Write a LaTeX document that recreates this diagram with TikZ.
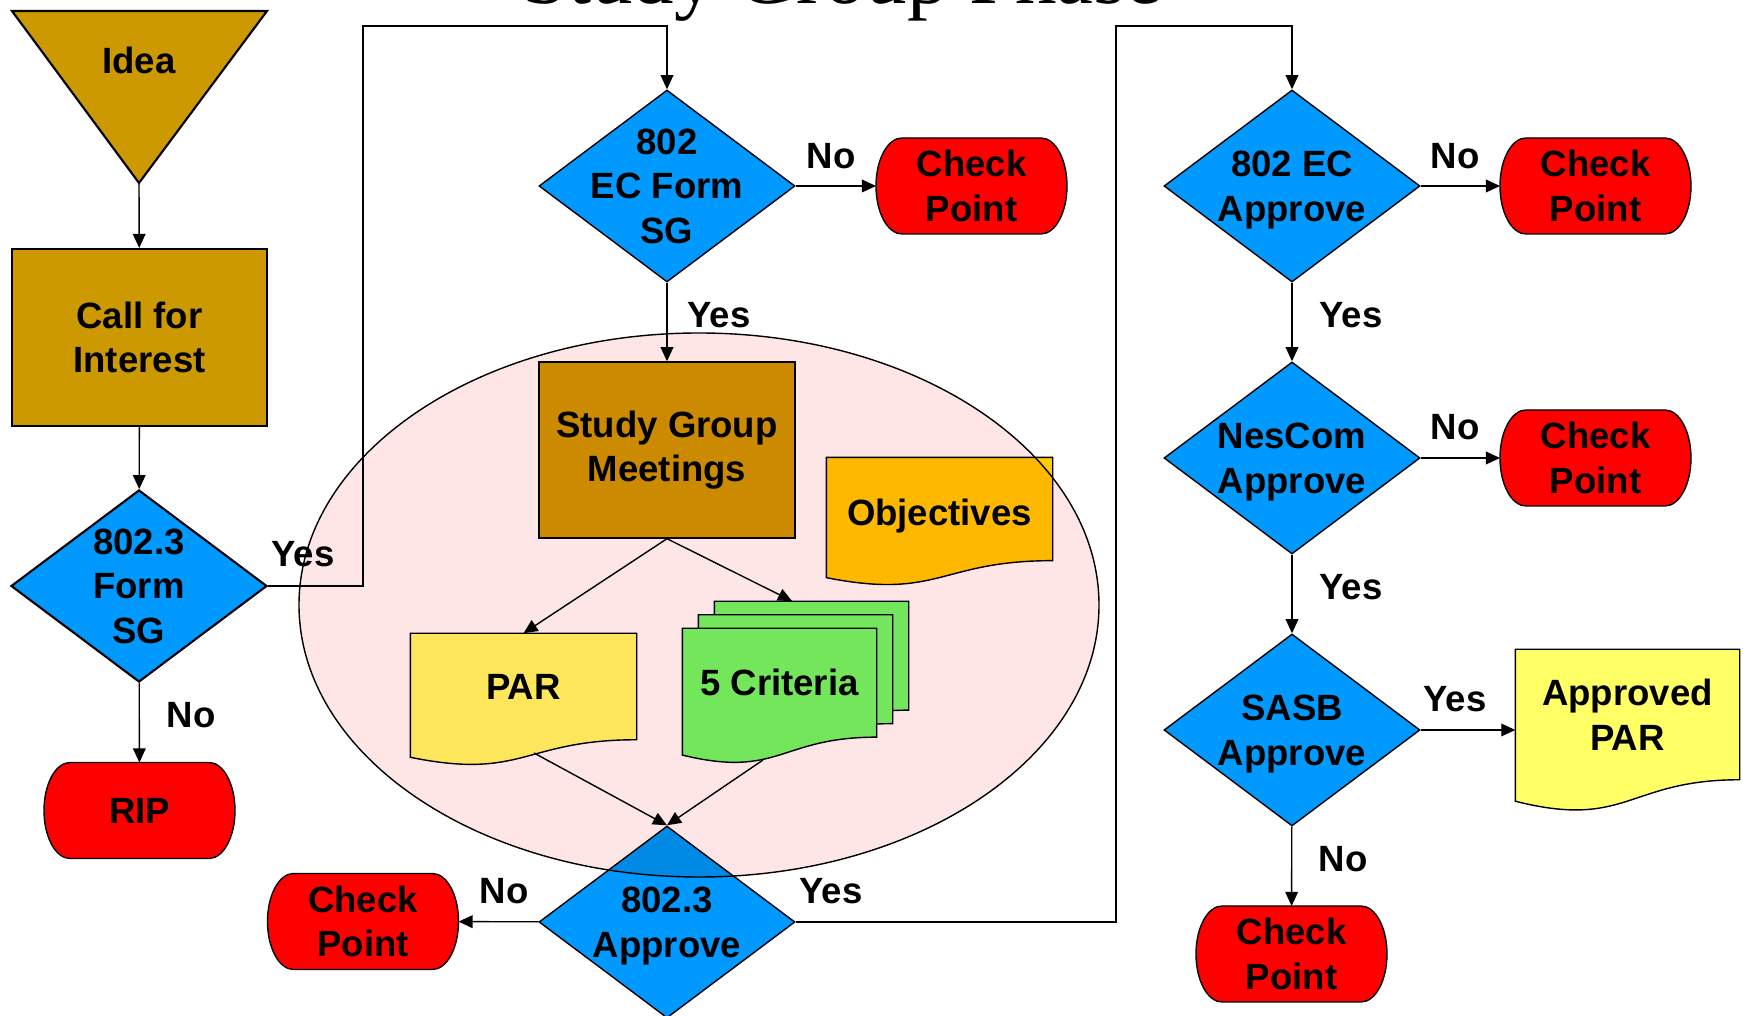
\documentclass[tikz,border=0pt]{standalone}
\usepackage{fontspec}
\setsansfont{Liberation Sans}
\newfontfamily\titlefont{Liberation Serif}
\usepackage{tikz}
\usetikzlibrary{arrows.meta}
\usetikzlibrary{shapes.geometric,calc}
\definecolor{ideagold}{HTML}{CC9900}
\definecolor{flowblue}{HTML}{0099FF}
\definecolor{stopred}{HTML}{FF0000}
\definecolor{paryellow}{HTML}{FFFF66}
\definecolor{objorange}{HTML}{FFCC00}
\definecolor{critgreen}{HTML}{75FF66}
\definecolor{sgpink}{RGB}{254,230,230}
\pgfdeclarelayer{docs}
\pgfsetlayers{docs,main}
\tikzset{
  every node/.style={font=\sffamily\bfseries\fontsize{10.4}{12.7}\selectfont, align=center},
  box/.style={rectangle, draw, fill=ideagold, minimum width=2.55cm, minimum height=1.77cm},
  decision/.style={diamond, draw, fill=flowblue, minimum width=2.56cm, minimum height=1.92cm,
    inner xsep=-0.5cm, inner ysep=-0.3cm, text depth=0pt},
  stopnode/.style={rectangle, minimum width=1.39cm, minimum height=0.96cm, inner sep=0pt,
    outer xsep=0.26cm, outer ysep=0pt},
  docnode/.style 2 args={rectangle, inner sep=0pt, minimum width=#1, minimum height=#2},
  flow/.style={-{Triangle[length=4pt,width=3.6pt]}},
}
% page with a wavy lower edge, drawn behind the node
\newcommand{\docshape}[3][]{%
  \begin{pgfonlayer}{docs}
  \draw[fill=#3,#1] let \p1=(#2.north), \p2=(#2.south), \n1={\y1-\y2} in
    (#2.north west) -- (#2.north east) -- (#2.south east)
    .. controls (#2.south) and ($(#2.south)+(0,-0.3815*\n1)$) .. ($(#2.south west)+(0,-0.1646*\n1)$) -- cycle;
  \end{pgfonlayer}}
% terminal with half-ellipse ends
\newcommand{\stopshape}[1]{%
  \begin{pgfonlayer}{docs}
  \draw[fill=stopred] ($(#1.north west)+(0.26,0)$) -- ($(#1.north east)+(-0.26,0)$)
    arc[start angle=90, end angle=-90, x radius=0.26, y radius=0.48]
    -- ($(#1.south west)+(0.26,0)$)
    arc[start angle=270, end angle=90, x radius=0.26, y radius=0.48] -- cycle;
  \end{pgfonlayer}}

\begin{document}
\begin{tikzpicture}[line width=0.6pt]
  \useasboundingbox (0,0) rectangle (17.43,10.16);
  \node[font=\titlefont\fontsize{23.6}{28}\selectfont, anchor=base] (title) at (8.425,10.125) {Study Group Phase};

  % left column
  \draw[fill=ideagold] (0.12,10.05) -- (2.67,10.05) -- (1.39,8.33) -- cycle;
  \coordinate (idea tip) at (1.39,8.33);
  \node (idea) at (1.39,9.56) {Idea};
  \node[box] (cfi) at (1.395,6.785) {Call for\\Interest};
  \node[decision] (formsg) at (1.39,4.30) {802.3\\Form\\SG};
  \node[stopnode] (rip) at (1.395,2.055) {RIP};
  \stopshape{rip}
  \draw[flow] (idea tip) -- (cfi);
  \draw[flow] (cfi) -- (formsg);
  \draw[flow] (formsg) -- (rip);
  \node (noA) at (1.91,3.01) {No};
  \node (yesA) at (3.03,4.62) {Yes};

  % study group
  \node[decision] (ecform) at (6.67,8.30) {802\\EC Form\\SG};
  \node[stopnode] (cp1) at (9.715,8.30) {Check\\Point};
  \stopshape{cp1}
  \node[box, minimum width=2.56cm, minimum height=1.76cm] (sgm) at (6.67,5.66) {Study Group\\Meetings};
  \node[docnode={2.25cm}{1.019cm}, text height=0.4cm] (obj) at (9.395,5.07) {Objectives};
  \node[docnode={2.25cm}{1.051cm}] (par) at (5.235,3.295) {PAR};
  \node[docnode={1.93cm}{1.075cm}] (crit) at (7.795,3.333) {5 Criteria};
  \docshape{obj}{objorange}
  \docshape{par}{paryellow}
  \foreach \s in {2,1}
    \docshape[transform canvas={shift={(0.16*\s,0.135*\s)}}]{crit}{critgreen};
  \docshape{crit}{critgreen}
  \coordinate (crit in) at (7.92,4.15);
  \coordinate (par out) at (5.34,2.63);
  \coordinate (crit out) at (7.63,2.56);
  \node[decision] (appr) at (6.67,0.94) {802.3\\Approve};
  \node[stopnode] (cp0) at (3.63,0.945) {Check\\Point};
  \stopshape{cp0}
  \coordinate (turnA) at (3.63,9.90);
  \draw[flow] (formsg.east) -| (turnA) -| (ecform.north);
  \draw[flow] (ecform) -- (cp1);
  \draw[flow] (ecform) -- (sgm);
  \draw[flow] (sgm.south) -- (par.north);
  \draw[flow] (sgm.south) -- (crit in);
  \draw[flow] (par out) -- (appr.north);
  \draw[flow] (crit out) -- (appr.north);
  \draw[flow] (appr) -- (cp0);
  \node (noB) at (8.31,8.60) {No};
  \node (yesB) at (7.19,7.01) {Yes};
  \node (noC) at (5.04,1.25) {No};
  \node (yesC) at (8.31,1.25) {Yes};

  % right column
  \node[decision] (ecappr) at (12.92,8.30) {802 EC\\Approve};
  \node[stopnode] (cp2) at (15.955,8.30) {Check\\Point};
  \stopshape{cp2}
  \node[decision] (nescom) at (12.92,5.58) {NesCom\\Approve};
  \node[stopnode] (cp3) at (15.955,5.58) {Check\\Point};
  \stopshape{cp3}
  \node[decision] (sasb) at (12.92,2.86) {SASB\\Approve};
  \node[docnode={2.23cm}{1.291cm}] (apar) at (16.275,3.015) {Approved\\PAR};
  \docshape{apar}{paryellow}
  \node[stopnode] (cp4) at (12.915,0.62) {Check\\Point};
  \stopshape{cp4}
  \coordinate (turnB) at (11.16,9.90);
  \draw[flow] (appr.east) -| (turnB) -| (ecappr.north);
  \draw[flow] (ecappr) -- (cp2);
  \draw[flow] (ecappr) -- (nescom);
  \draw[flow] (nescom) -- (cp3);
  \draw[flow] (nescom) -- (sasb);
  \draw[flow] (sasb.east) -- (sasb.east -| apar.west);
  \draw[flow] (sasb) -- (cp4);
  \node (noD) at (14.55,8.60) {No};
  \node (yesD) at (13.51,7.01) {Yes};
  \node (noE) at (14.55,5.89) {No};
  \node (yesE) at (13.51,4.29) {Yes};
  \node (yesF) at (14.55,3.17) {Yes};
  \node (noF) at (13.43,1.57) {No};

  % the study group phase
  \fill[sgpink, blend mode=multiply] (6.99,4.11) ellipse (4 and 2.72);
  \draw (6.99,4.11) ellipse (4 and 2.72);
\end{tikzpicture}
\end{document}
